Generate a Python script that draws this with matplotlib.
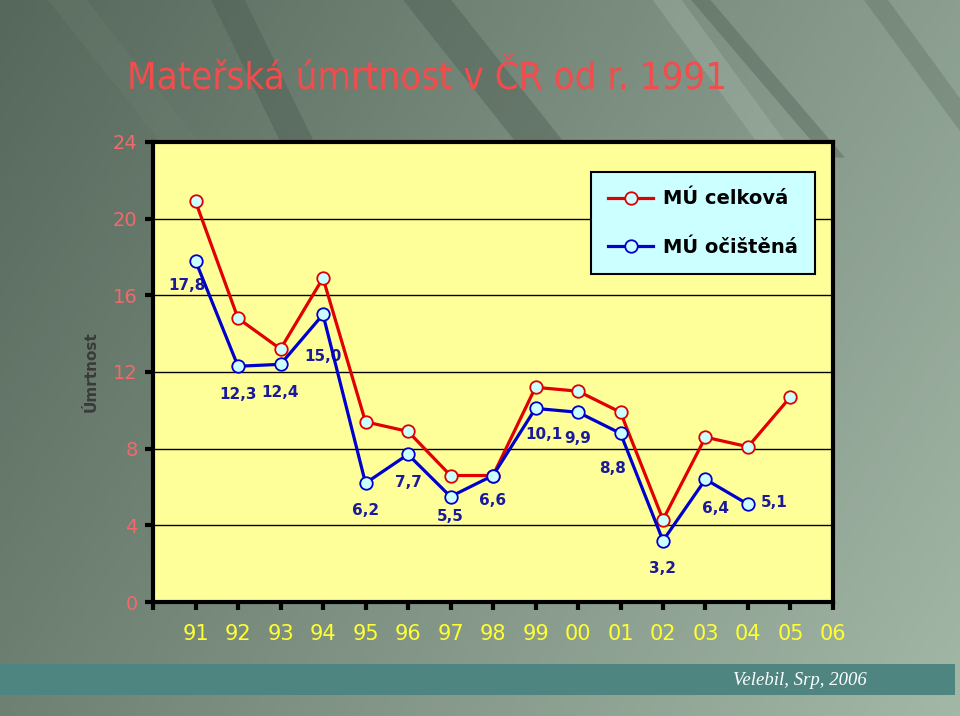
import numpy as np
import matplotlib
matplotlib.use("Agg")
import matplotlib.pyplot as plt
from matplotlib.patches import Polygon, Rectangle

##### Data #####
years = ['91', '92', '93', '94', '95', '96', '97', '98', '99', '00', '01', '02', '03', '04', '05', '06']
mu_celkova = [20.9, 14.8, 13.2, 16.9, 9.4, 8.9, 6.6, 6.6, 11.2, 11.0, 9.9, 4.3, 8.6, 8.1, 10.7]
mu_ocistena = [17.8, 12.3, 12.4, 15.0, 6.2, 7.7, 5.5, 6.6, 10.1, 9.9, 8.8, 3.2, 6.4, 5.1]
label_texts = ['17,8', '12,3', '12,4', '15,0', '6,2', '7,7', '5,5', '6,6', '10,1', '9,9', '8,8', '3,2', '6,4', '5,1']
# label offsets in points (dx, dy)
label_offsets = [(-6, -18), (0, -20), (0, -20), (0, -30), (0, -20), (0, -20), (0, -14),
                 (0, -18), (6, -19), (0, -19), (-6, -25), (0, -20), (7, -21), (19, 1)]
yticks = [0, 4, 8, 12, 16, 20, 24]

fig = plt.figure(figsize=(9.6, 7.16), dpi=100)

#### background ####
bg = fig.add_axes([0, 0, 1, 1], zorder=-10)
bg.set_xlim(0, 1)
bg.set_ylim(0, 1)
bg.axis('off')
gx = np.linspace(0, 1, 200)
gy = np.linspace(0, 1, 150)
GX, GY = np.meshgrid(gx, gy)
grad = 0.55 * GX + 0.25 * GY
bg.imshow(grad, extent=[0, 1, 0, 1], origin='upper', aspect='auto',
          cmap=matplotlib.colors.LinearSegmentedColormap.from_list('bgc', ['#56685b', '#a3b7a7']),
          vmin=0, vmax=0.8)
streaks = [(0.22, 0.30, 0.035, '#4a5a4f', 0.4), (0.42, 0.55, 0.05, '#45544a', 0.35),
           (0.68, 0.80, 0.03, '#b0c2b3', 0.3), (0.72, 0.86, 0.02, '#3f4f44', 0.3),
           (0.90, 1.02, 0.025, '#4a5a4f', 0.25), (0.05, 0.18, 0.04, '#6c7f71', 0.3)]
for x0, x1, w, c, a in streaks:
    bg.add_patch(Polygon([(x0, 1), (x0 + w, 1), (x1 + w, 0.78), (x1, 0.78)],
                         closed=True, color=c, alpha=a, lw=0))
bg.add_patch(Rectangle((0, 0.029), 0.995, 0.044, color='#4e8580', lw=0))
bg.text(0.903, 0.049, 'Velebil, Srp, 2006', color='white', fontsize=13.5,
        family='Liberation Serif', style='italic', ha='right', va='center')
bg.text(0.445, 0.891, 'Mateřská úmrtnost v ČR od r. 1991', color='#f24c4c', fontsize=27.5,
        family='DejaVu Sans', fontstretch='condensed', ha='center', va='center')

#### chart ####
ax = fig.add_axes([0.1594, 0.1592, 0.7083, 0.6425])
ax.set_facecolor('#ffff99')
x1 = np.arange(1, len(mu_celkova) + 1)
x2 = np.arange(1, len(mu_ocistena) + 1)

ax.plot(x1, mu_celkova, color='#e00000', lw=2.3, marker='o', ms=9,
        mfc='#ccffff', mec='#e00000', mew=1.3, label='MÚ celková', zorder=3)
ax.plot(x2, mu_ocistena, color='#0000cc', lw=2.3, marker='o', ms=9,
        mfc='#ccffff', mec='#0000cc', mew=1.3, label='MÚ očištěná', zorder=4)

for xi, yi, t, off in zip(x2, mu_ocistena, label_texts, label_offsets):
    ax.annotate(t, (xi, yi), xytext=off, textcoords='offset points', ha='center', va='center',
                color='#1a1a9a', fontsize=11, fontweight='bold')

ax.set_xlim(0, 16)
ax.set_ylim(0, 24)
ax.set_xticks(np.arange(0, 17))
ax.set_xticklabels([''] + years)
ax.set_yticks(yticks)
ax.grid(axis='y', color='black', lw=1)
ax.set_axisbelow(True)
for s in ax.spines.values():
    s.set_linewidth(3)
    s.set_color('black')
ax.tick_params(axis='x', length=6, width=3, pad=10, labelsize=15, labelcolor='#ffff33')
ax.tick_params(axis='y', length=6, width=3, pad=5, labelsize=14, labelcolor='#f06a6a')
ax.set_ylabel('Úmrtnost', fontsize=11, fontweight='bold', color='#3a3a3a', labelpad=10)

leg = ax.legend(loc='upper right', bbox_to_anchor=(0.974, 0.935),
                prop={'weight': 'bold', 'size': 14}, facecolor='#ccffff', edgecolor='black',
                framealpha=1, fancybox=False, handlelength=2.3, handletextpad=0.5,
                borderpad=0.9, labelspacing=1.5, borderaxespad=0)
leg.get_frame().set_linewidth(1.5)

fig.savefig('out.png', dpi=100)
